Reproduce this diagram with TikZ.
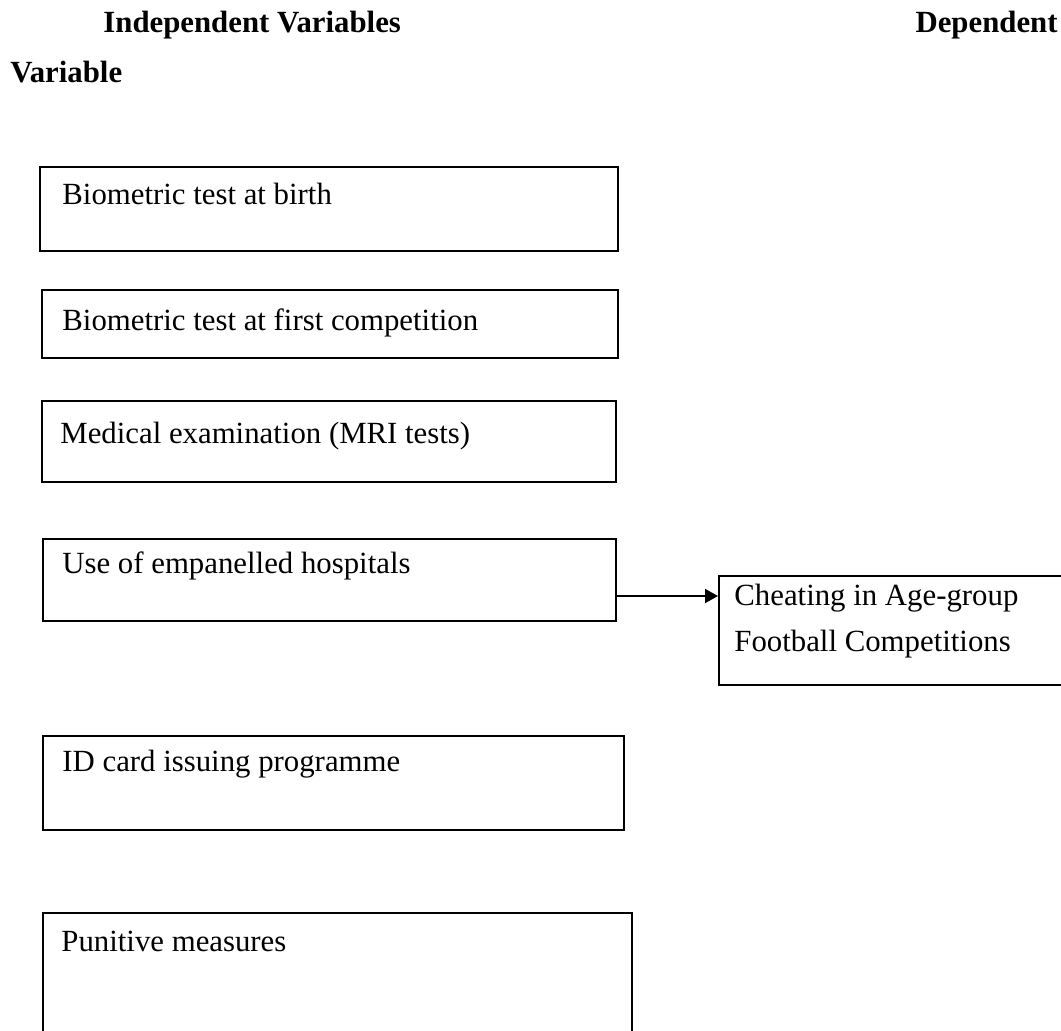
\documentclass[tikz,border=0pt]{standalone}
\usepackage{fontspec}
\setmainfont{Liberation Serif}
\usetikzlibrary{arrows.meta}
\begin{document}
\begin{tikzpicture}[x=0.5pt,y=-0.5pt,
  box/.style={draw=black,line width=1pt,rectangle,inner sep=0pt,anchor=north west},
  txt/.style={anchor=base west,inner sep=0pt,font=\fontsize{15.4pt}{18pt}\selectfont},
  head/.style={inner sep=0pt,font=\fontsize{15.4pt}{18pt}\selectfont\bfseries},
  arr/.style={line width=1pt,-{Triangle[length=6.5pt,width=7pt]}}]
\useasboundingbox (0,0) rectangle (1061,1030);
% boxes
\node[box,minimum width=289pt,minimum height=42pt] (b1) at (39,166) {};
\node[box,minimum width=288pt,minimum height=34pt] (b2) at (41,289) {};
\node[box,minimum width=287pt,minimum height=40.5pt] (b3) at (41,400) {};
\node[box,minimum width=286.5pt,minimum height=41pt] (b4) at (42,538) {};
\node[box,minimum width=290.5pt,minimum height=47pt] (b5) at (42,735) {};
\node[box,minimum width=294.5pt,minimum height=80pt] (b6) at (42,912) {};
\node[box,minimum width=190pt,minimum height=54.5pt] (dv) at (718,575) {};
% texts
\node[head,anchor=base west] (h1) at (103,32) {Independent Variables};
\node[head,anchor=base east] (h2) at (1058,32) {Dependent};
\node[head,anchor=base west] (h3) at (10,82) {Variable};
\node[txt] (t1) at (62,204) {Biometric test at birth};
\node[txt] (t2) at (62,330) {Biometric test at first competition};
\node[txt] (t3) at (60,443) {Medical examination (MRI tests)};
\node[txt] (t4) at (62,573) {Use of empanelled hospitals};
\node[txt] (t5) at (62,771) {ID card issuing programme};
\node[txt] (t6) at (61,951) {Punitive measures};
\node[txt] (d1) at (734,605) {Cheating in Age-group};
\node[txt] (d2) at (734,651) {Football Competitions};
% connector
\draw[arr] ([yshift=-8pt]b4.east) -- ([yshift=-8pt]b4.east -| dv.west);
\end{tikzpicture}
\end{document}
